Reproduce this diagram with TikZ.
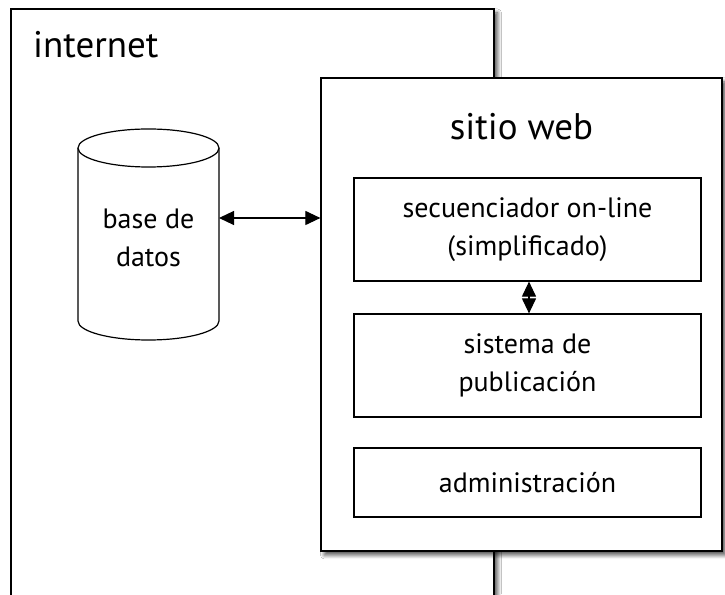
\documentclass[tikz,border=0pt]{standalone}
\usepackage{fontspec}
\setmainfont{PT Sans}
\usetikzlibrary{arrows.meta,shadows.blur}
\begin{document}
\begin{tikzpicture}[x=1pt,y=1pt,
  frame/.style={draw=black, line width=1.2pt, fill=white, inner sep=0pt,
    blur shadow={shadow xshift=3.5pt, shadow yshift=-4pt, shadow blur steps=8, shadow blur radius=4pt, shadow opacity=70}},
  inbox/.style={draw=black, line width=1.2pt, fill=white, inner sep=0pt,
    minimum width=347pt, align=center, font=\fontsize{28}{38}\selectfont},
  title/.style={font=\fontsize{37}{44}\selectfont, inner sep=0pt},
  conn/.style={line width=1.1pt, {Triangle[length=15pt,width=14pt]}-{Triangle[length=15pt,width=14pt]}}
]
\clip (0,0) rectangle (725,594);
\fill[white] (0,0) rectangle (725,594);
% internet frame
\node[frame, minimum width=483pt, minimum height=605pt] (internet) at (252.5,282.5) {};
\node[title, anchor=west] (internetlbl) at (33,549) {internet};
% database cylinder
\draw[line width=1.2pt, fill=white] (78,446) -- (78,273) arc (180:360:70.5 and 19) -- (219,446);
\draw[line width=1.2pt, fill=white] (148.5,446) ellipse (70.5 and 19);
\coordinate (dbright) at (219,376);
\node[align=center, font=\fontsize{28}{38}\selectfont, inner sep=0pt] (db) at (148.5,356) {base de\\datos};
% sitio web frame
\node[frame, minimum width=401pt, minimum height=473pt] (sitio) at (521.5,279.5) {};
\node[title] (sitiolbl) at (521.5,467) {sitio web};
\node[inbox, minimum height=103pt] (sec) at (527.5,364.5) {secuenciador on-line\\(simplificado)};
\node[inbox, minimum height=103pt] (sis) at (527.5,228.5) {sistema de\\publicación};
\node[inbox, minimum height=69pt] (adm) at (527.5,111.5) {administración};
% connectors
\draw[conn] (dbright) -- (sitio.west |- dbright);
\draw[conn] ([xshift=1.5pt]sec.south) -- ([xshift=1.5pt]sis.north);
\end{tikzpicture}
\end{document}
